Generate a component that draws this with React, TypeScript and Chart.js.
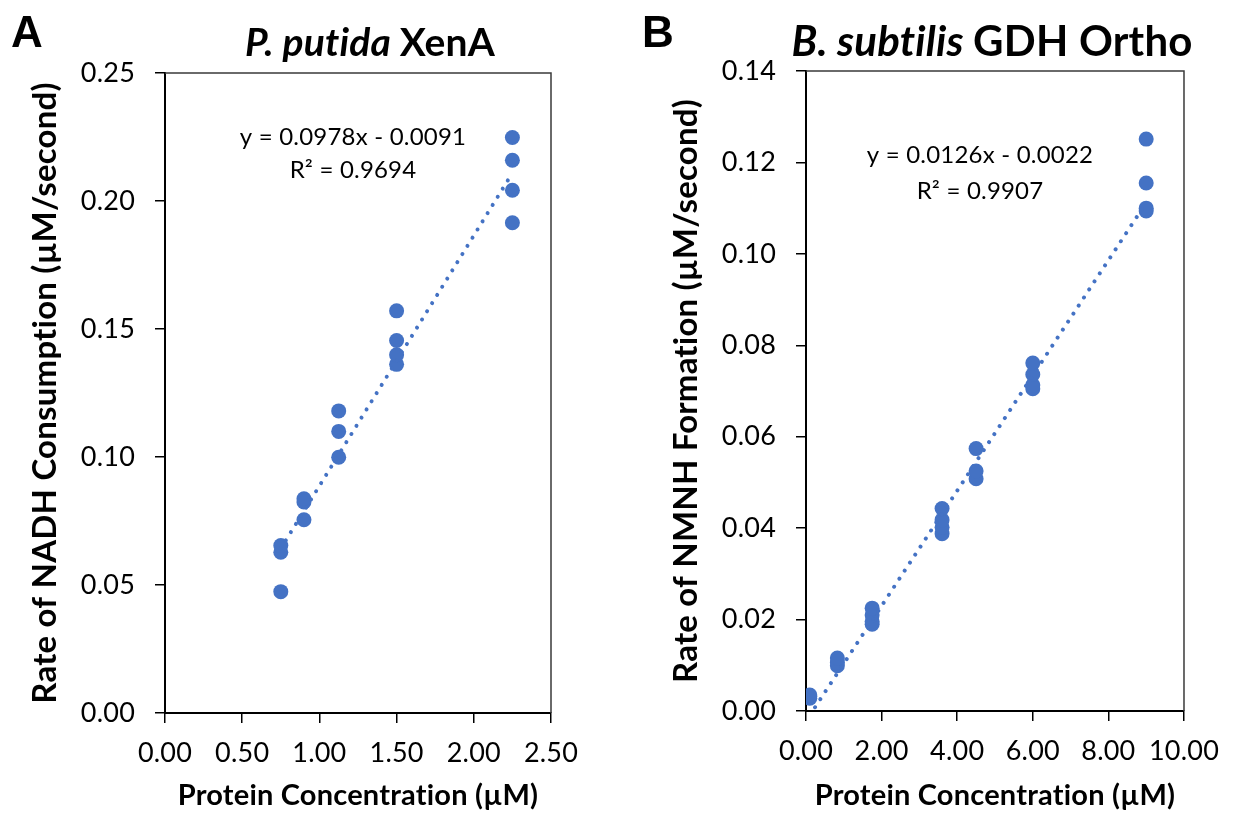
import React, { useEffect, useRef } from "react";
import { Chart, registerables } from "chart.js";

Chart.register(...registerables);

// ---------- Panel A data: P. putida XenA ----------
const xA = [0.75, 0.75, 0.75, 0.9, 0.9, 0.9, 1.125, 1.125, 1.125, 1.5, 1.5, 1.5, 1.5, 2.25, 2.25, 2.25, 2.25];
const yA = [0.0474, 0.0628, 0.0654, 0.0755, 0.0824, 0.0837, 0.0999, 0.110, 0.118, 0.1362, 0.1399, 0.1455, 0.1571, 0.1915, 0.2042, 0.2159, 0.2248];
const slopeA = 0.0978;
const interceptA = -0.0091;
const r2A = "0.9694";
const xTicksA = [0, 0.5, 1.0, 1.5, 2.0, 2.5];
const yTicksA = [0, 0.05, 0.1, 0.15, 0.2, 0.25];

// ---------- Panel B data: B. subtilis GDH Ortho ----------
const xB = [0.1, 0.1, 0.1, 0.83, 0.83, 0.83, 1.75, 1.75, 1.75, 1.75, 3.6, 3.6, 3.6, 3.6, 4.5, 4.5, 4.5, 6, 6, 6, 6, 9, 9, 9, 9];
const yB = [0.0028, 0.0032, 0.0035, 0.0099, 0.0106, 0.0116, 0.019, 0.0196, 0.021, 0.0225, 0.0388, 0.0402, 0.0418, 0.0443, 0.0508, 0.0525, 0.0574, 0.0705, 0.0713, 0.0736, 0.0761, 0.1094, 0.11, 0.1155, 0.1251];
const slopeB = 0.0126;
const interceptB = -0.0022;
const r2B = "0.9907";
const xTicksB = [0, 2, 4, 6, 8, 10];
const yTicksB = [0, 0.02, 0.04, 0.06, 0.08, 0.1, 0.12, 0.14];

const BLUE = "#4472C4";
const FONT = "Lato";

type PanelProps = {
  xs: number[];
  ys: number[];
  slope: number;
  intercept: number;
  r2: string;
  xTicks: number[];
  yTicks: number[];
  letter: string;
  titleItalic: string;
  titleRest: string;
  yTitle: string;
  width: number;
  left: number;
  layout: {
    areaLeft: number;
    areaTop: number;
    areaBottom: number;
    padRight: number;
    yTitlePad: number;
    letterX: number;
    titleCx: number;
    titleSize: number;
    eqCx: number;
    eqY1: number;
    eqY2: number;
  };
};

const H = 813;

function Panel(p: PanelProps) {
  const ref = useRef<HTMLCanvasElement | null>(null);

  useEffect(() => {
    if (!ref.current) return;
    const L = p.layout;
    const points = p.xs.map((x, i) => ({ x, y: p.ys[i] }));
    const minX = Math.min(...p.xs);
    const maxX = Math.max(...p.xs);
    const trend = [
      { x: minX, y: p.slope * minX + p.intercept },
      { x: maxX, y: p.slope * maxX + p.intercept },
    ];
    const sign = p.intercept < 0 ? "-" : "+";
    const eq1 = `y = ${p.slope.toFixed(4)}x ${sign} ${Math.abs(p.intercept).toFixed(4)}`;
    const eq2 = `R² = ${p.r2}`;

    const noLig = (chart: any) => {
      try {
        chart.ctx.letterSpacing = "0.2px";
      } catch (e) {}
    };

    const deco = {
      id: "panelDeco",
      beforeInit: noLig,
      beforeUpdate: noLig,
      beforeLayout: noLig,
      beforeDraw: noLig,
      afterDraw(chart: any) {
        const { ctx, chartArea } = chart;
        const { left, top, right, bottom } = chartArea;
        ctx.save();
        // frame top + right
        ctx.strokeStyle = "#3a3a3a";
        ctx.lineWidth = 1.5;
        ctx.beginPath();
        ctx.moveTo(left, top);
        ctx.lineTo(right, top);
        ctx.lineTo(right, bottom);
        ctx.stroke();
        ctx.fillStyle = "#000";
        ctx.textBaseline = "alphabetic";
        // panel letter
        ctx.textAlign = "left";
        ctx.font = 'bold 44px "Liberation Sans"';
        ctx.fillText(p.letter, L.letterX, 47);
        // title
        const ts = L.titleSize;
        ctx.font = `italic bold ${ts}px ${FONT}`;
        const w1 = ctx.measureText(p.titleItalic).width;
        ctx.font = `bold ${ts}px ${FONT}`;
        const w2 = ctx.measureText(p.titleRest).width;
        const tx = L.titleCx - (w1 + w2) / 2;
        ctx.font = `italic bold ${ts}px ${FONT}`;
        ctx.fillText(p.titleItalic, tx, 56);
        ctx.font = `bold ${ts}px ${FONT}`;
        ctx.fillText(p.titleRest, tx + w1, 56);
        // equation
        ctx.textAlign = "center";
        ctx.font = `24px ${FONT}`;
        ctx.fillText(eq1, L.eqCx, L.eqY1);
        ctx.fillText(eq2, L.eqCx, L.eqY2);
        ctx.restore();
      },
    };

    const axisCommon = {
      type: "linear" as const,
      grid: {
        drawOnChartArea: false,
        drawTicks: true,
        tickLength: 10,
        color: "#000",
        lineWidth: 1.5,
      },
      border: { display: true, color: "#000", width: 2 },
    };

    const chart = new Chart(ref.current, {
      type: "scatter",
      data: {
        datasets: [
          {
            type: "line",
            data: trend,
            borderColor: BLUE,
            borderWidth: 4,
            borderDash: [0.01, 9.6],
            borderCapStyle: "round",
            pointRadius: 0,
            fill: false,
            showLine: true,
          } as any,
          {
            type: "scatter",
            data: points,
            backgroundColor: BLUE,
            borderColor: BLUE,
            borderWidth: 0,
            pointRadius: 7.5,
            pointHoverRadius: 7.5,
          },
        ],
      },
      options: {
        responsive: false,
        animation: false,
        devicePixelRatio: 1,
        layout: {
          padding: { left: 0, top: L.areaTop, right: L.padRight, bottom: 0 },
        },
        plugins: {
          legend: { display: false },
          tooltip: { enabled: false },
          title: { display: false },
        },
        scales: {
          x: {
            ...axisCommon,
            min: p.xTicks[0],
            max: p.xTicks[p.xTicks.length - 1],
            afterBuildTicks: (s: any) => {
              s.ticks = p.xTicks.map((v) => ({ value: v }));
            },
            ticks: {
              autoSkip: false,
              maxRotation: 0,
              color: "#000",
              padding: 14,
              font: { family: FONT, size: 27 },
              callback: (v: any) => Number(v).toFixed(2),
            },
            title: {
              display: true,
              text: "Protein Concentration (µM)",
              color: "#000",
              font: { family: FONT, size: 29, weight: "bold" },
              padding: { top: 0, bottom: 0 },
            },
            afterFit: (s: any) => {
              s.height = H - L.areaBottom;
            },
          },
          y: {
            ...axisCommon,
            min: p.yTicks[0],
            max: p.yTicks[p.yTicks.length - 1],
            afterBuildTicks: (s: any) => {
              s.ticks = p.yTicks.map((v) => ({ value: v }));
            },
            ticks: {
              autoSkip: false,
              color: "#000",
              padding: 20,
              font: { family: FONT, size: 27 },
              callback: (v: any) => Number(v).toFixed(2),
            },
            title: {
              display: true,
              text: p.yTitle,
              color: "#000",
              font: { family: FONT, size: 33, weight: "bold" },
              padding: { top: L.yTitlePad, bottom: 0 },
            },
            afterFit: (s: any) => {
              s.width = L.areaLeft;
            },
          },
        },
      } as any,
      plugins: [deco],
    });
    return () => chart.destroy();
  }, []);

  return (
    <canvas
      ref={ref}
      width={p.width}
      height={H}
      style={{ position: "absolute", left: p.left, top: 0, width: p.width, height: H, display: "block" }}
    />
  );
}

export default function App() {
  return (
    <div style={{ position: "absolute", left: 0, top: 0, width: 1233, height: H, background: "#fff", overflow: "hidden" }}>
      <Panel
        xs={xA}
        ys={yA}
        slope={slopeA}
        intercept={interceptA}
        r2={r2A}
        xTicks={xTicksA}
        yTicks={yTicksA}
        letter="A"
        titleItalic="P. putida "
        titleRest="XenA"
        yTitle="Rate of NADH Consumption (µM/second)"
        width={620}
        left={0}
        layout={{
          areaLeft: 165,
          areaTop: 73,
          areaBottom: 713,
          padRight: 69,
          yTitlePad: 26,
          letterX: 11,
          titleCx: 370,
          titleSize: 39,
          eqCx: 353,
          eqY1: 145,
          eqY2: 178,
        }}
      />
      <Panel
        xs={xB}
        ys={yB}
        slope={slopeB}
        intercept={interceptB}
        r2={r2B}
        xTicks={xTicksB}
        yTicks={yTicksB}
        letter="B"
        titleItalic="B. subtilis "
        titleRest="GDH Ortho"
        yTitle="Rate of NMNH Formation (µM/second)"
        width={613}
        left={620}
        layout={{
          areaLeft: 186,
          areaTop: 71,
          areaBottom: 711,
          padRight: 42,
          yTitlePad: 47,
          letterX: 22,
          titleCx: 372,
          titleSize: 42,
          eqCx: 360,
          eqY1: 163,
          eqY2: 199,
        }}
      />
    </div>
  );
}
